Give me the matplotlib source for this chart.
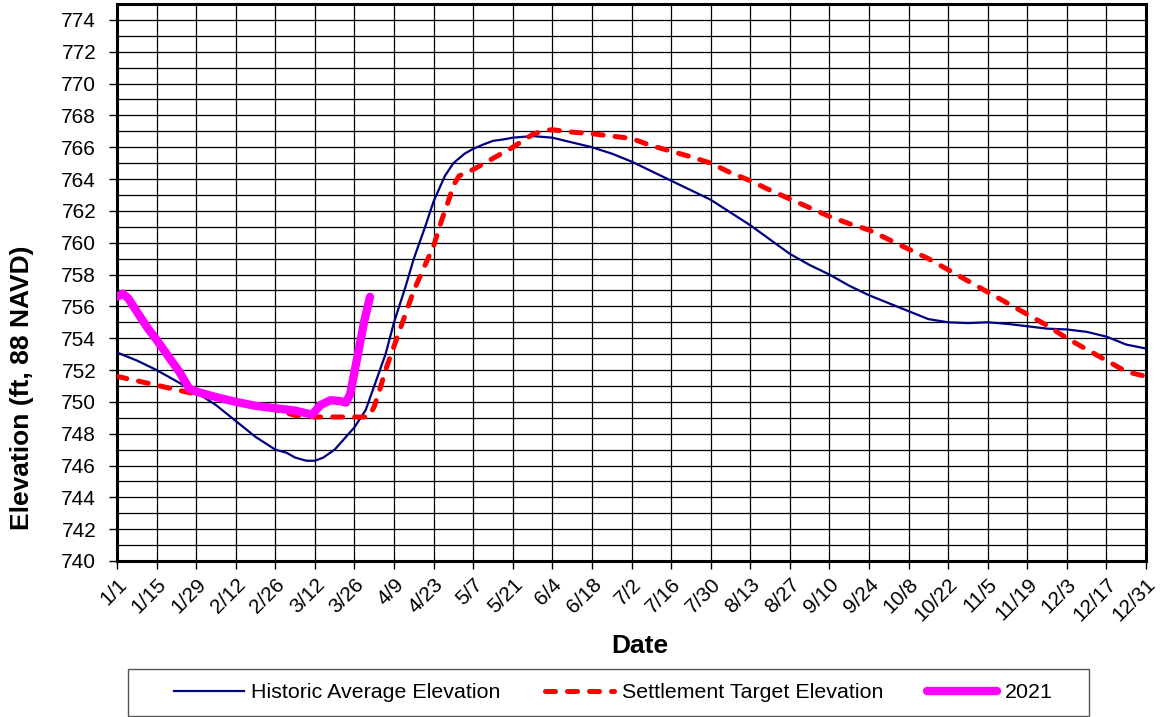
import matplotlib
matplotlib.use("Agg")
import matplotlib.pyplot as plt
from matplotlib.patches import Rectangle
from matplotlib.ticker import MultipleLocator

plt.rcParams["font.family"] = ["Liberation Sans", "DejaVu Sans"]

# ---------------------------------------------------------------------------
# Datos (día del año, elevación en ft)
# ---------------------------------------------------------------------------
TICK_LABELS = ["1/1", "1/15", "1/29", "2/12", "2/26", "3/12", "3/26", "4/9",
               "4/23", "5/7", "5/21", "6/4", "6/18", "7/2", "7/16", "7/30",
               "8/13", "8/27", "9/10", "9/24", "10/8", "10/22", "11/5",
               "11/19", "12/3", "12/17", "12/31"]

hist_day = [0, 7, 14, 21, 28, 35, 42, 49, 56, 60, 63, 67, 70, 73, 77, 80, 84,
            88, 91, 95, 98, 102, 105, 109, 112, 116, 119, 123, 126, 130, 133,
            137, 140, 147, 154, 161, 168, 175, 182, 189, 196, 203, 210, 217,
            224, 231, 238, 245, 252, 259, 266, 273, 280, 287, 294, 301, 308,
            315, 322, 329, 336, 343, 350, 357, 364]
hist_elev = [753.1, 752.6, 752.0, 751.3, 750.6, 749.8, 748.8, 747.8, 747.0,
             746.8, 746.5, 746.3, 746.3, 746.5, 747.0, 747.6, 748.4, 749.5,
             751.0, 753.0, 755.0, 757.2, 759.0, 761.0, 762.6, 764.2, 765.0,
             765.6, 765.9, 766.2, 766.4, 766.5, 766.6, 766.7, 766.6, 766.3,
             766.0, 765.6, 765.1, 764.5, 763.9, 763.3, 762.7, 761.9, 761.1,
             760.2, 759.3, 758.6, 758.0, 757.3, 756.7, 756.2, 755.7, 755.2,
             755.0, 754.95, 755.0, 754.9, 754.75, 754.6, 754.55, 754.4, 754.1,
             753.6, 753.35]

target_day = [0, 14, 25, 28, 42, 56, 63, 70, 77, 84, 89, 91, 93, 95, 98, 102,
              105, 109, 112, 115, 117, 119, 121, 126, 133, 140, 147, 151, 154,
              161, 168, 175, 182, 189, 196, 203, 210, 217, 224, 231, 238, 245,
              252, 259, 266, 273, 280, 287, 294, 301, 308, 315, 322, 329, 336,
              343, 350, 357, 364]
target_elev = [751.6, 751.05, 750.6, 750.5, 750.0, 749.5, 749.15, 749.05,
               749.05, 749.05, 749.05, 749.7, 750.8, 752.0, 753.5, 755.5,
               757.0, 758.6, 759.8, 761.5, 762.5, 763.6, 764.2, 764.6, 765.3,
               766.0, 766.8, 767.05, 767.1, 766.95, 766.85, 766.7, 766.55,
               766.1, 765.75, 765.4, 765.0, 764.4, 763.9, 763.3, 762.75, 762.2,
               761.65, 761.2, 760.8, 760.2, 759.6, 759.0, 758.3, 757.6, 756.9,
               756.2, 755.5, 754.8, 754.0, 753.3, 752.6, 751.9, 751.6]

y2021_day = [0, 2, 4, 8, 11, 14, 18, 22, 25.5, 28, 35, 42, 49, 56, 63, 69, 72,
             75.5, 79, 81, 82.5, 85, 87.5, 89.5]
y2021_elev = [756.6, 756.8, 756.5, 755.4, 754.6, 753.9, 752.9, 751.9, 750.85,
              750.65, 750.3, 750.0, 749.75, 749.6, 749.45, 749.2, 749.8, 750.1,
              750.05, 749.95, 750.5, 752.8, 755.1, 756.6]


def main() -> None:
    W, H = 1162, 717
    fig = plt.figure(figsize=(W / 100, H / 100), dpi=100)
    ax = fig.add_axes([117 / W, 1 - 561 / H, 1029 / W, 557 / H])

    ax.plot(hist_day, hist_elev, color="#000080", lw=1.6,
            label="Historic Average Elevation", zorder=3)
    ax.plot(target_day, target_elev, color="#FF0000", lw=3.6,
            dashes=(2.0, 2.4), dash_capstyle="round",
            label="Settlement Target Elevation", zorder=4)
    ax.plot(y2021_day, y2021_elev, color="#FF00FF", lw=6,
            solid_capstyle="round", solid_joinstyle="round",
            label="2021", zorder=5)

    # Ejes y rejilla
    ax.set_xlim(0, 364)
    ax.set_ylim(740, 775)
    ax.set_xticks(range(0, 365, 14))
    ax.set_xticklabels(TICK_LABELS, rotation=45, ha="right",
                       rotation_mode="anchor", fontsize=15)
    ax.yaxis.set_minor_locator(MultipleLocator(1))
    ax.set_yticks(range(740, 775, 2))
    ax.tick_params(axis="y", labelsize=15, length=6, width=1,
                   direction="out", pad=9)
    ax.tick_params(axis="y", which="minor", length=0)
    ax.tick_params(axis="x", length=6, width=1, direction="out", pad=4)
    ax.grid(True, which="both", axis="y", color="black", lw=0.9)
    ax.grid(True, which="major", axis="x", color="black", lw=0.9)
    ax.set_axisbelow(True)
    for sp in ax.spines.values():
        sp.set_linewidth(2.2)
        sp.set_color("black")

    ax.set_xlabel("Date", fontsize=19, fontweight="bold")
    ax.xaxis.set_label_coords(0.508, (561 - 634) / 557)
    ax.set_ylabel("Elevation (ft, 88 NAVD)", fontsize=19, fontweight="bold")
    ax.yaxis.set_label_coords((34 - 117) / 1029, (561 - 388) / 557)

    # Leyenda inferior con marco propio
    fig.legend(loc="center left", bbox_to_anchor=(174 / W, 1 - 692.5 / H),
               ncol=3, fontsize=15.4, handlelength=3.25, handletextpad=0.37,
               columnspacing=2.05, frameon=False, borderpad=0,
               borderaxespad=0)
    fig.patches.append(Rectangle((128 / W, 1 - 716 / H), 961 / W, 47 / H,
                                 transform=fig.transFigure, fill=False,
                                 edgecolor="#555555", lw=1.0))

    fig.savefig("out.png", dpi=100)


if __name__ == "__main__":
    main()
